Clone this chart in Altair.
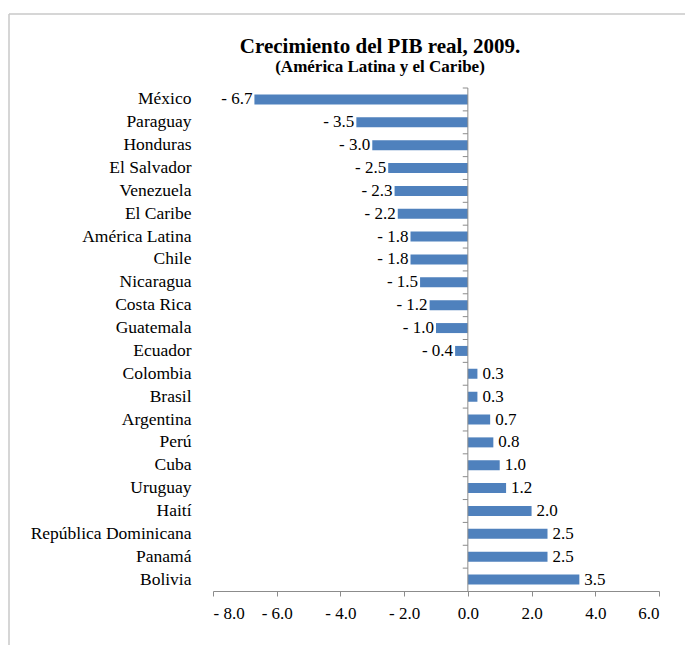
import altair as alt
import pandas as pd

countries = ["México", "Paraguay", "Honduras", "El Salvador", "Venezuela", "El Caribe",
             "América Latina", "Chile", "Nicaragua", "Costa Rica", "Guatemala", "Ecuador",
             "Colombia", "Brasil", "Argentina", "Perú", "Cuba", "Uruguay", "Haití",
             "República Dominicana", "Panamá", "Bolivia"]
values = [-6.7, -3.5, -3.0, -2.5, -2.3, -2.2, -1.8, -1.8, -1.5, -1.2, -1.0, -0.4,
          0.3, 0.3, 0.7, 0.8, 1.0, 1.2, 2.0, 2.5, 2.5, 3.5]
x_ticks = [-8, -6, -4, -2, 0, 2, 4, 6]

df = pd.DataFrame({"country": countries, "value": values})
one = pd.DataFrame({"z": [0]})

W, H = 446, 503
FONT = "Liberation Serif"
GREY = "#8C8C8C"

x_scale = alt.Scale(domain=[-8, 6], nice=False, zero=False)
x_axis = alt.Axis(values=x_ticks,
                  labelExpr="datum.value < 0 ? '- ' + format(-datum.value, '.1f') : format(datum.value, '.1f')",
                  title=None, grid=False, domainColor=GREY, tickColor=GREY, tickSize=5,
                  labelPadding=9, labelFont=FONT, labelFontSize=17, labelColor="black")
y_scale = alt.Scale(paddingInner=0, paddingOuter=0)
y_axis = alt.Axis(title=None, domain=False, ticks=False, labelPadding=22,
                  labelFont=FONT, labelFontSize=17.5, labelColor="black")

y_enc = alt.Y("country:N", sort=countries, scale=y_scale, axis=y_axis)

base = alt.Chart(df).transform_calculate(
    label="datum.value < 0 ? '- ' + format(-datum.value, '.1f') : format(datum.value, '.1f')"
)

bars = base.mark_bar(color="#4F81BD", size=10).encode(
    x=alt.X("value:Q", scale=x_scale, axis=x_axis),
    x2=alt.datum(0),
    y=y_enc,
)

neg = base.transform_filter("datum.value < 0").mark_text(
    align="right", baseline="middle", dx=-2, font=FONT, fontSize=17, color="black"
).encode(x=alt.X("value:Q", scale=x_scale, axis=x_axis), y=y_enc, text="label:N")

pos = base.transform_filter("datum.value >= 0").mark_text(
    align="left", baseline="middle", dx=5, font=FONT, fontSize=17, color="black"
).encode(x=alt.X("value:Q", scale=x_scale, axis=x_axis), y=y_enc, text="label:N")

ticks = base.mark_rule(color=GREY).encode(
    x=alt.datum(0),
    x2=alt.datum(-0.16),
    y=alt.Y("country:N", sort=countries, scale=y_scale, axis=y_axis, bandPosition=0),
)

zero_line = alt.Chart(one).mark_rule(color=GREY).encode(
    x=alt.datum(0), y=alt.value(0), y2=alt.value(H)
)

frame_top = alt.Chart(one).mark_rule(color="#C8C8C8", strokeWidth=1.5).encode(
    x=alt.value(-204), x2=alt.value(480), y=alt.value(-74)
)
frame_left = alt.Chart(one).mark_rule(color="#C8C8C8", strokeWidth=1.5).encode(
    x=alt.value(-204), y=alt.value(-74), y2=alt.value(565)
)

chart = alt.layer(frame_top, frame_left, bars, zero_line, ticks, neg, pos).properties(
    width=W, height=H,
    autosize=alt.AutoSizeParams(type="none"),
    padding={"left": 205, "top": 80, "right": 26, "bottom": 54},
    background="white",
    title=alt.TitleParams(
        text="Crecimiento del PIB real, 2009.",
        subtitle="(América Latina y el Caribe)",
        font=FONT, fontSize=21, fontWeight="bold", color="black",
        subtitleFont=FONT, subtitleFontSize=17, subtitleFontWeight="bold",
        subtitleColor="black", subtitlePadding=2,
        anchor="middle", dx=-56, offset=-62,
    ),
).configure_view(stroke=None)

chart.save("out.html", embed_options={"renderer": "svg", "actions": False})
